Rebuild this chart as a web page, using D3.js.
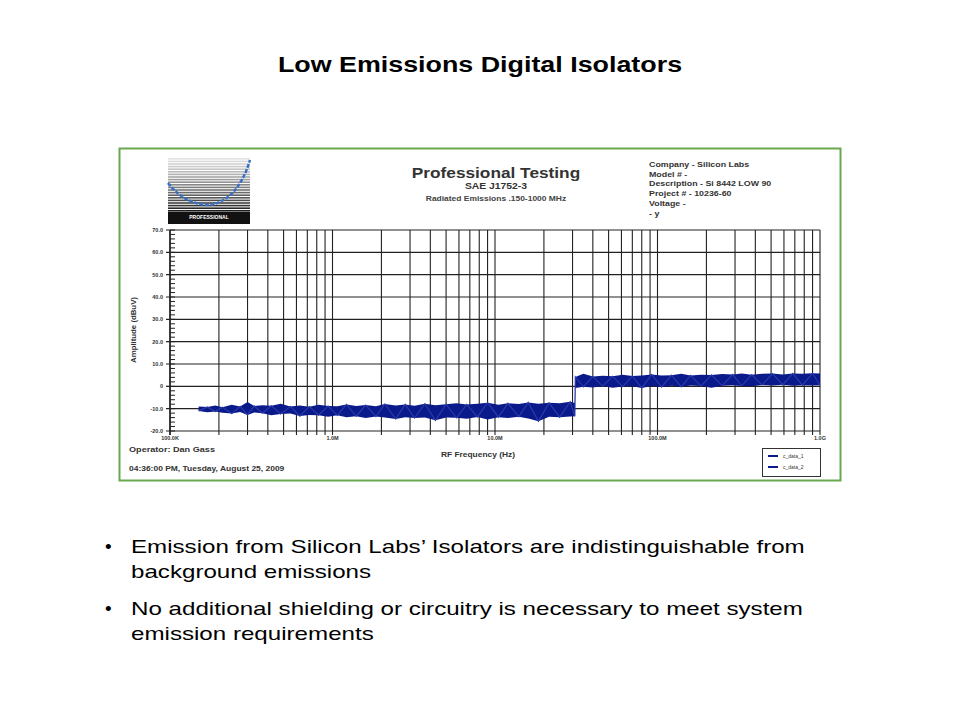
<!DOCTYPE html><html><head><meta charset="utf-8"><script src="https://cdn.jsdelivr.net/npm/d3@7"></script>
<style>body{margin:0;background:#fff;font-family:"Liberation Sans",Arial,sans-serif}</style></head><body>
<svg id="c" width="960" height="720"></svg>
<script>
const yTicks=[-20,-10,0,10,20,30,40,50,60,70];
const yTickLabels=["-20.0","-10.0","0","10.0","20.0","30.0","40.0","50.0","60.0","70.0"];
const xTicks=[1e5,1e6,1e7,1e8,1e9];
const xTickLabels=["100.0K","1.0M","10.0M","100.0M","1.0G"];
// band: frequency (Hz), low and high amplitude (dBuV)
const freq=[1.5e5,1.7e5,1.9e5,2.1e5,2.4e5,2.7e5,3e5,3.3e5,3.7e5,4.2e5,4.8e5,5.5e5,6.3e5,7.2e5,8.2e5,9.4e5,1.07e6,1.22e6,1.4e6,1.6e6,1.85e6,2.1e6,2.45e6,2.8e6,3.2e6,3.7e6,4.3e6,5e6,5.8e6,6.7e6,7.8e6,9e6,1.05e7,1.2e7,1.4e7,1.6e7,1.85e7,2.15e7,2.5e7,2.9e7,3.1e7,
3.12e7,3.5e7,4e7,4.6e7,5.3e7,6.1e7,7e7,8e7,9.2e7,1.06e8,1.22e8,1.4e8,1.6e8,1.85e8,2.15e8,2.5e8,2.9e8,3.3e8,3.8e8,4.4e8,5.1e8,5.9e8,6.8e8,7.8e8,9e8,1e9];
const lo=[-11,-11.6,-11.3,-11.8,-12.2,-11.5,-12.8,-11.7,-12,-13,-12.4,-12.2,-13.3,-12.8,-12.9,-13.6,-13,-13.8,-13.4,-14.2,-13.5,-14,-14.6,-13.8,-14.2,-13.9,-15.2,-14,-14.1,-14.5,-13.7,-14.8,-13.8,-14.2,-13.6,-14.4,-15.6,-13.6,-13.8,-13.5,-13.4,
-0.8,-0.2,-0.5,0.1,-0.6,-0.1,0,-0.7,0.2,-0.3,0.3,-0.2,0.4,0.1,-0.6,0.3,0.5,0.2,0,0.6,0.4,0.7,0.3,0.5,0.4,0.5];
const hi=[-9,-9.2,-8.6,-9.4,-8.2,-9,-7,-8.8,-8.5,-8.7,-7.8,-9,-8.6,-9.1,-8.2,-8.8,-8.9,-8.1,-8.8,-8.4,-8.9,-7.9,-8.6,-8.1,-8.7,-7.8,-8.5,-8,-7.6,-8.1,-7.8,-7.3,-8.2,-7.6,-7.9,-7.2,-7.8,-7.4,-7.6,-6.9,-7.5,
4.2,5.6,4.4,4.7,4.5,5.2,4.6,4.9,5.3,4.8,5.0,5.6,4.9,5.2,5.1,5.5,5.3,5.8,5.2,5.6,5.7,5.3,5.8,5.6,5.9,5.7];
const title="Low Emissions Digital Isolators";
const bullets=[["Emission from Silicon Labs’ Isolators are indistinguishable from","background emissions"],["No additional shielding or circuitry is necessary to meet system","emission requirements"]];
const info=["Company - Silicon Labs","Model # -","Description - Si 8442 LOW 90","Project # - 10236-60","Voltage -","  - y"];

const svg=d3.select("#c");
function stretch(sel,f){sel.each(function(){const w=this.getComputedTextLength();this.setAttribute("textLength",w*f);this.setAttribute("lengthAdjust","spacingAndGlyphs");});return sel;}
stretch(svg.append("text").attr("x",480).attr("y",72).attr("text-anchor","middle").attr("font-size",22).attr("font-weight","bold").text(title),1.22);
svg.append("rect").attr("x",119.5).attr("y",148.5).attr("width",721).attr("height",332).attr("fill","#fff").attr("stroke","#6aa84f").attr("stroke-width",2);
const lg=svg.append("g");
for(let i=0;i<22;i++){lg.append("rect").attr("x",168).attr("y",158+i*2.6).attr("width",82).attr("height",1.6).attr("fill",d3.interpolateGreys(0.2+i*0.035));}
lg.append("rect").attr("x",168).attr("y",212).attr("width",82).attr("height",12).attr("fill","#111");
lg.append("text").attr("x",209).attr("y",219).attr("text-anchor","middle").attr("font-size",5).attr("fill","#fff").attr("font-weight","bold").text("PROFESSIONAL");
lg.append("path").attr("d","M168,183 Q185,205 210,205 Q238,200 250,160").attr("fill","none").attr("stroke","#3b6fc4").attr("stroke-width",2.5).attr("stroke-dasharray","4,1.5");
stretch(svg.append("text").attr("x",496).attr("y",178).attr("text-anchor","middle").attr("font-size",15).attr("font-weight","bold").attr("fill","#333").text("Professional Testing"),1.15);
stretch(svg.append("text").attr("x",496).attr("y",189).attr("text-anchor","middle").attr("font-size",9).attr("font-weight","bold").attr("fill","#333").text("SAE J1752-3"),1.15);
stretch(svg.append("text").attr("x",496).attr("y",201).attr("text-anchor","middle").attr("font-size",6.5).attr("font-weight","bold").attr("fill","#444").text("Radiated Emissions .150-1000 MHz"),1.3);
info.forEach((t,i)=>stretch(svg.append("text").attr("x",649).attr("y",167+i*9.7).attr("font-size",6.8).attr("font-weight","bold").attr("fill","#333").text(t),1.3));

const x=d3.scaleLog().domain([1e5,1e9]).range([170,820]);
const y=d3.scaleLinear().domain([-20,70]).range([431,230]);
const g=svg.append("g");
const minor=[];for(let d=1e5;d<1e9;d*=10)for(let k=2;k<=9;k++)minor.push(d*k);
g.selectAll(".vx").data(minor.concat(xTicks)).join("line").attr("x1",d=>x(d)).attr("x2",d=>x(d)).attr("y1",230).attr("y2",435).attr("stroke","#222").attr("stroke-width",1.1);
g.selectAll(".hy").data(yTicks).join("line").attr("x1",166).attr("x2",820).attr("y1",d=>y(d)).attr("y2",d=>y(d)).attr("stroke","#222").attr("stroke-width",1.1);
const ym=[];for(let v=-20;v<=70;v+=2)ym.push(v);
g.selectAll(".my").data(ym).join("line").attr("x1",170).attr("x2",175).attr("y1",d=>y(d)).attr("y2",d=>y(d)).attr("stroke","#222");
g.append("line").attr("x1",170).attr("x2",170).attr("y1",230).attr("y2",435).attr("stroke","#222").attr("stroke-width",1.5);
g.selectAll(".yl").data(yTicks).join("text").attr("x",163).attr("y",d=>y(d)+2).attr("text-anchor","end").attr("font-size",5.5).attr("font-weight","bold").attr("fill","#333").text((d,i)=>yTickLabels[i]);
g.selectAll(".xl").data(xTicks).join("text").attr("x",d=>x(d)).attr("y",440).attr("text-anchor","middle").attr("font-size",5.5).attr("font-weight","bold").attr("fill","#333").text((d,i)=>xTickLabels[i]);
stretch(svg.append("text").attr("transform","translate(136,330) rotate(-90)").attr("text-anchor","middle").attr("font-size",6.5).attr("font-weight","bold").attr("fill","#333").text("Amplitude (dBuV)"),1.2);
stretch(svg.append("text").attr("x",478).attr("y",457).attr("text-anchor","middle").attr("font-size",7).attr("font-weight","bold").attr("fill","#333").text("RF Frequency (Hz)"),1.2);
stretch(svg.append("text").attr("x",129).attr("y",452).attr("font-size",7).attr("font-weight","bold").attr("fill","#333").text("Operator: Dan Gass"),1.3);
stretch(svg.append("text").attr("x",129).attr("y",471).attr("font-size",6.5).attr("font-weight","bold").attr("fill","#333").text("04:36:00 PM, Tuesday, August 25, 2009"),1.3);
const idx=d3.range(freq.length);
g.append("path").datum(idx).attr("d",d3.area().x(i=>x(freq[i])).y0(i=>y(lo[i])).y1(i=>y(hi[i]))).attr("fill","#0b1a8a");
g.append("path").datum(idx).attr("d",d3.line().x(i=>x(freq[i])).y(i=>y(i%2?hi[i]:lo[i]))).attr("fill","none").attr("stroke","#2a3aa8").attr("stroke-width",1.2);
svg.append("rect").attr("x",762.5).attr("y",448.5).attr("width",58).attr("height",28).attr("fill","#fff").attr("stroke","#333");
["c_data_1","c_data_2"].forEach((t,i)=>{svg.append("line").attr("x1",768).attr("x2",778).attr("y1",456+i*11).attr("y2",456+i*11).attr("stroke","#0b1a8a").attr("stroke-width",2);
svg.append("text").attr("x",783).attr("y",458+i*11).attr("font-size",5).attr("fill","#333").text(t);});
bullets.forEach((b,i)=>{const yy=553+i*62;
svg.append("text").attr("x",105).attr("y",yy).attr("font-size",19).text("•");
b.forEach((l,j)=>stretch(svg.append("text").attr("x",131).attr("y",yy+j*25).attr("font-size",19).text(l),1.27));});
</script></body></html>
